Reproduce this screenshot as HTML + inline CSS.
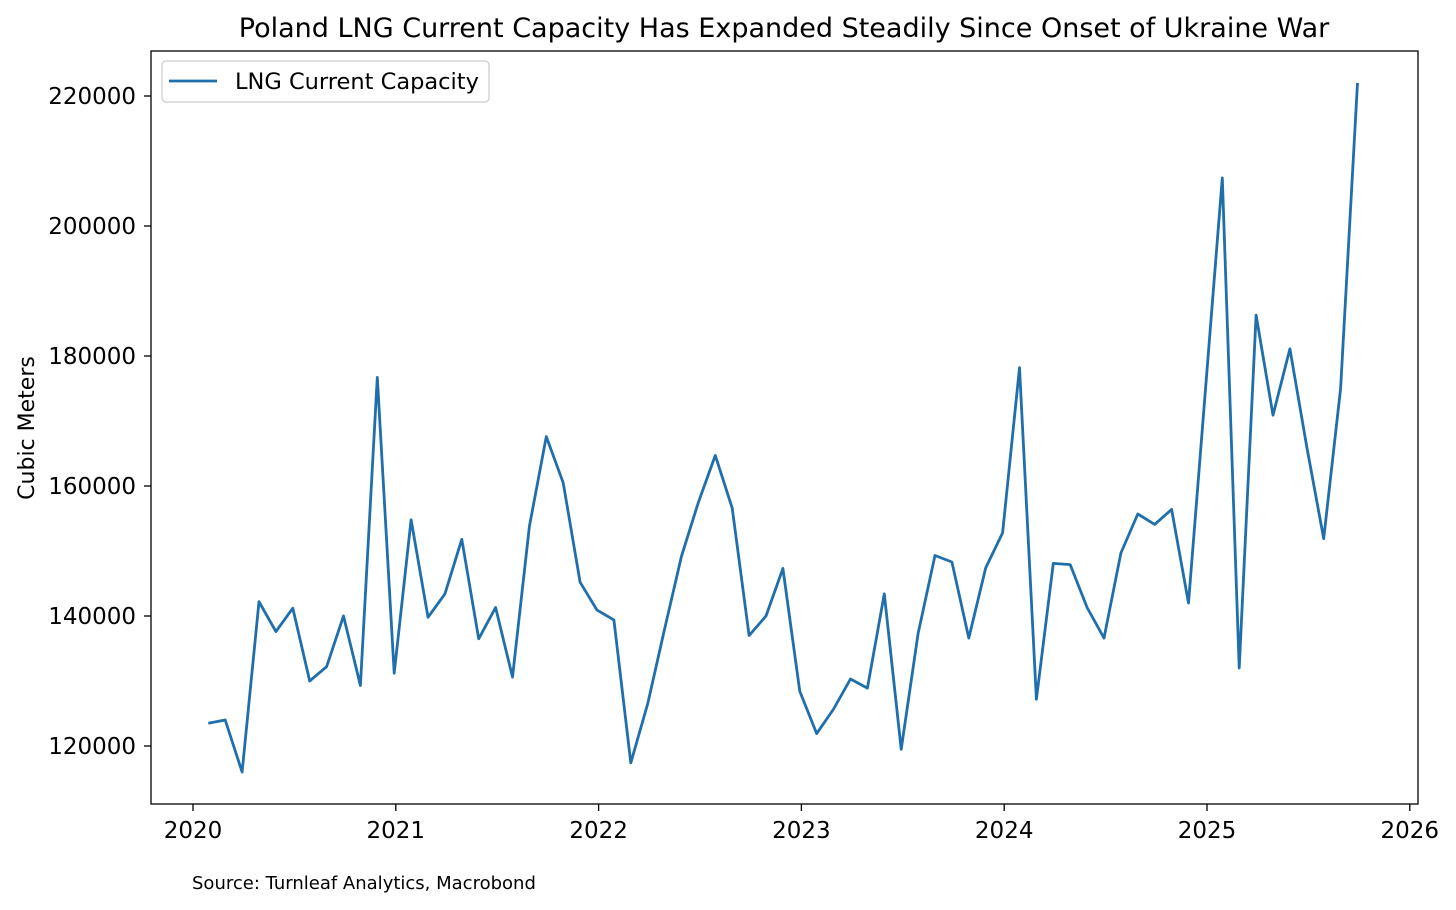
<!DOCTYPE html>
<html><head><meta charset="utf-8">
<style>
body{margin:0;background:#fff;}
svg{display:block;font-family:"DejaVu Sans","Liberation Sans",sans-serif;}
</style></head>
<body>
<svg id="chart" width="1456" height="910" viewBox="0 0 1456 910" xmlns="http://www.w3.org/2000/svg">
<rect width="1456" height="910" fill="#fff"/>
<text x="784" y="37" text-anchor="middle" font-size="27">Poland LNG Current Capacity Has Expanded Steadily Since Onset of Ukraine War</text>
<text transform="translate(34,428) rotate(-90)" text-anchor="middle" font-size="22">Cubic Meters</text>
<text x="192" y="889" font-size="18">Source: Turnleaf Analytics, Macrobond</text>
<g id="ticks"></g>
<polyline id="series" fill="none" stroke="#1f6fad" stroke-width="2.8" stroke-linejoin="round"/>
<rect x="151" y="51" width="1267" height="753" fill="none" stroke="#000" stroke-width="1.3"/>
<g>
<rect x="162" y="61" width="327" height="41" rx="4" fill="#fff" stroke="#ccc" stroke-width="1.2"/>
<line x1="169" y1="81" x2="217" y2="81" stroke="#1f6fad" stroke-width="2.8"/>
<text x="235" y="89" font-size="22.5">LNG Current Capacity</text>
</g>
</svg>
<script>
const startYear = 2020;
const values = [
123500,124000,116000,142200,137600,141200,130000,132200,140000,129300,176700,131200,
154800,139800,143400,151800,136500,141300,130600,153800,167600,160500,145200,140900,
139400,117400,126500,138000,149200,157500,164700,156600,137000,140000,147300,128400,
121900,125700,130300,128900,143400,119500,137300,149300,148300,136600,147400,152800,
178200,127200,148100,147900,141300,136600,149700,155700,154100,156400,142000,174700,
207400,132000,186300,170900,181100,166000,151900,175000,222000];
const yTicks = [120000,140000,160000,180000,200000,220000];
const xTicks = [2020,2021,2022,2023,2024,2025,2026];

const NS="http://www.w3.org/2000/svg";
function xs(t){return 193 + (t-2020)*202.8;}
function ys(v){return 746 - (v-120000)*0.0065;}
const pts = values.map((v,i)=>xs(startYear + (i+1)/12 - 0.008).toFixed(1)+","+ys(v).toFixed(1));
document.getElementById('series').setAttribute('points', pts.join(' '));
const g=document.getElementById('ticks');
yTicks.forEach(v=>{
  const y=ys(v);
  const l=document.createElementNS(NS,'line');
  l.setAttribute('x1',144);l.setAttribute('x2',151);l.setAttribute('y1',y);l.setAttribute('y2',y);l.setAttribute('stroke','#000');l.setAttribute('stroke-width','1.3');
  
  
  g.appendChild(l);
  const t=document.createElementNS(NS,'text');
  t.setAttribute('x',136);t.setAttribute('y',y+8);t.setAttribute('text-anchor','end');t.setAttribute('font-size','23');
  t.textContent=v;
  
  
  g.appendChild(t);
});
xTicks.forEach(v=>{
  const x=xs(v);
  const l=document.createElementNS(NS,'line');
  l.setAttribute('x1',x);l.setAttribute('x2',x);l.setAttribute('y1',804);l.setAttribute('y2',811);l.setAttribute('stroke','#000');l.setAttribute('stroke-width','1.3');
  
  
  g.appendChild(l);
  const t=document.createElementNS(NS,'text');
  t.setAttribute('x',x);t.setAttribute('y',838);t.setAttribute('text-anchor','middle');t.setAttribute('font-size','23');
  t.textContent=v;
  
  
  g.appendChild(t);
});
</script>
</body></html>
